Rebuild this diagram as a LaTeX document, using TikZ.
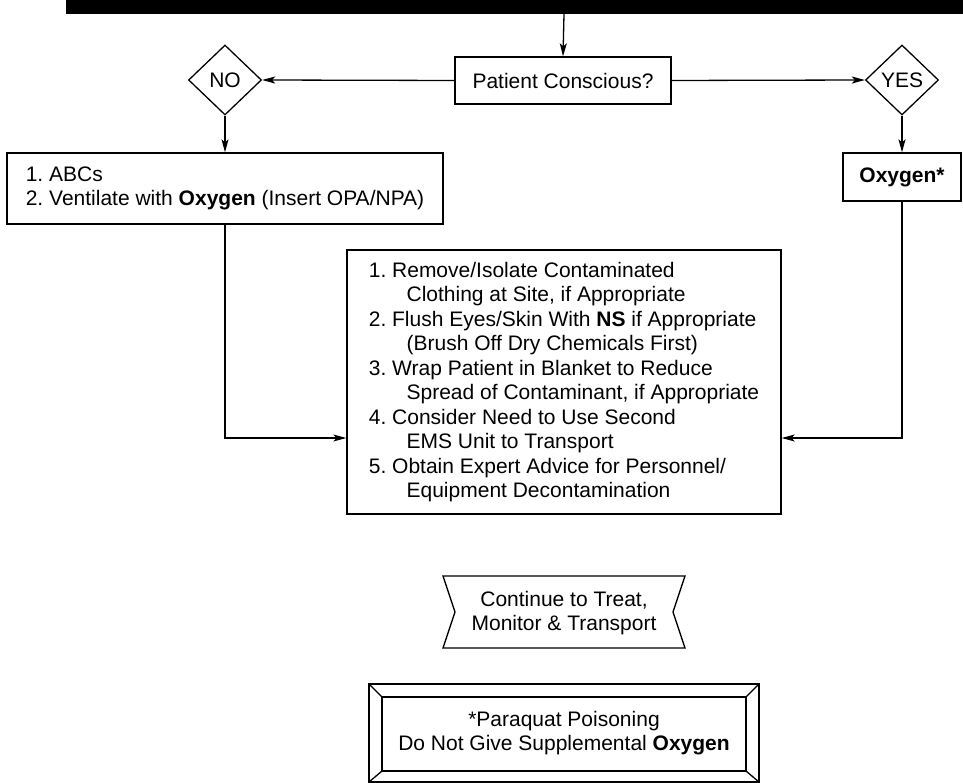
\documentclass[tikz,border=0pt]{standalone}
\usepackage{fontspec}
\setmainfont{Liberation Sans}
\usetikzlibrary{arrows.meta, shapes.geometric, positioning}

\begin{document}
\begin{tikzpicture}[x=1pt, y=-1pt, >={Stealth[length=13pt,width=7pt,inset=3pt]},
  line width=1.3pt,
  txt/.style={font=\fontsize{21}{24.5}\selectfont\frenchspacing, inner sep=0pt},
  box/.style={txt, draw, rectangle, align=left},
  dec/.style={txt, draw, diamond, minimum width=73pt, minimum height=70pt}]
  \useasboundingbox (0,0) rectangle (963,783);
  \fill (66,0) rectangle (963,14);
  \coordinate (bar) at (564,14);
  \node [box, minimum width=216pt, minimum height=47pt] (pc) at (563,80.5) {Patient Conscious?};
  \node [dec] (no) at (225,80) {NO};
  \node [dec] (yes) at (902,80) {YES};
  \node [box, minimum width=436pt, minimum height=71pt] (abc) at (225,188.5)
    {1. ABCs\\2. Ventilate with \textbf{Oxygen} (Insert OPA/NPA)};
  \node [box, minimum width=118pt, minimum height=48pt] (oxy) at (902,177) {\textbf{Oxygen*}};
  \node [box, minimum width=434pt, minimum height=264pt] (decon) at (564,382)
    {1. Remove/Isolate Contaminated\\
     \hspace*{1.8em}Clothing at Site, if Appropriate\\
     2. Flush Eyes/Skin With \textbf{NS} if Appropriate\\
     \hspace*{1.8em}(Brush Off Dry Chemicals First)\\
     3. Wrap Patient in Blanket to Reduce\\
     \hspace*{1.8em}Spread of Contaminant, if Appropriate\\
     4. Consider Need to Use Second\\
     \hspace*{1.8em}EMS Unit to Transport\\
     5. Obtain Expert Advice for Personnel/\\
     \hspace*{1.8em}Equipment Decontamination};
  \draw [->] (bar) -- (pc.north);
  \draw [->] (pc.west) -- (no.east);
  \draw [->] (pc.east) -- (yes.west);
  \draw [->] (no.south) -- (abc.north);
  \draw [->] (yes.south) -- (oxy.north);
  \draw [->] (abc.south) |- ([yshift=-56pt]decon.west);
  \draw [->] (oxy.south) |- ([yshift=-56pt]decon.east);
  \draw (443,576) -- (685,576) -- (673,612) -- (685,648) -- (443,648) -- (455,612) -- cycle;
  \node [txt, align=center] (cont) at (564,613) {Continue to Treat,\\Monitor \& Transport};
  \draw (369,684) rectangle (759,782);
  \draw (382,697) rectangle (746,771);
  \draw (369,684) -- (382,697) (759,684) -- (746,697) (369,782) -- (382,771) (759,782) -- (746,771);
  \node [txt, align=center] (para) at (564,733) {*Paraquat Poisoning\\Do Not Give Supplemental \textbf{Oxygen}};
\end{tikzpicture}
\end{document}
